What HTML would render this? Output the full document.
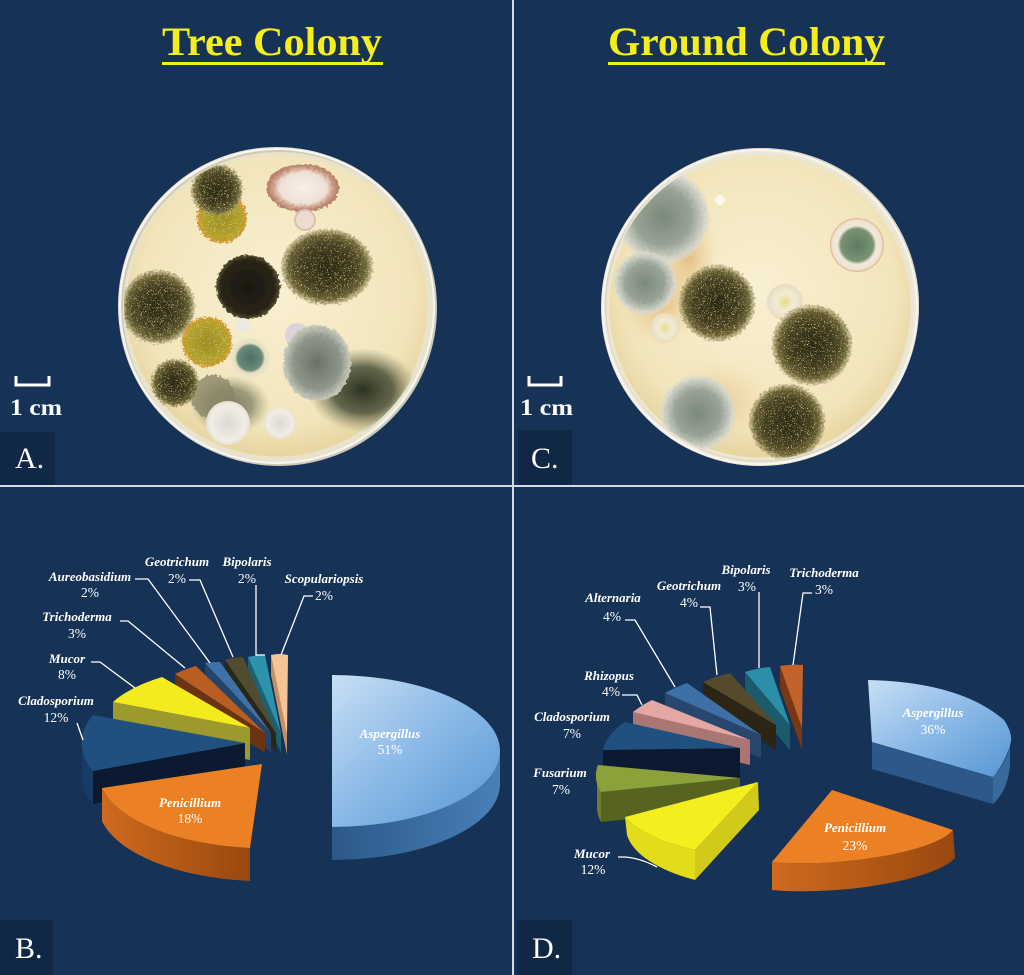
<!DOCTYPE html>
<html><head><meta charset="utf-8"><style>
html,body{margin:0;padding:0;background:#163256;}
svg{display:block}
.lb{font-family:"Liberation Serif",serif;font-style:italic;font-weight:600;font-size:13px;fill:#fff;text-anchor:middle}
.pc{font-family:"Liberation Serif",serif;font-size:13.5px;fill:#fff;text-anchor:middle}
.ld{stroke:#fff;stroke-width:1.3;fill:none}
.tt{font-family:"Liberation Serif",serif;font-weight:bold;font-size:40px;fill:#f4ee1c}
.pl{font-family:"Liberation Serif",serif;font-size:30px;fill:#fff}
.cm{font-family:"Liberation Serif",serif;font-weight:bold;font-size:23px;fill:#fff}
</style></head><body>
<svg width="1024" height="975" viewBox="0 0 1024 975" xmlns="http://www.w3.org/2000/svg">
<defs>
<linearGradient id="gAspTop" x1="0" y1="0" x2="1" y2="1"><stop offset="0" stop-color="#c8dff5"/><stop offset="0.45" stop-color="#8fbce8"/><stop offset="1" stop-color="#5796d4"/></linearGradient>
<linearGradient id="gAspSide" x1="0" y1="0" x2="1" y2="0"><stop offset="0" stop-color="#2b5888"/><stop offset="1" stop-color="#4a7fb8"/></linearGradient>
<linearGradient id="gPenSide" x1="0" y1="0" x2="1" y2="0"><stop offset="0" stop-color="#d06a1e"/><stop offset="1" stop-color="#98480f"/></linearGradient>
<radialGradient id="agar" cx="0.5" cy="0.45" r="0.55"><stop offset="0" stop-color="#f9f0d2"/><stop offset="0.8" stop-color="#f2e5bb"/><stop offset="1" stop-color="#e6d49f"/></radialGradient>
<radialGradient id="gDark"><stop offset="0" stop-color="#2b2713"/><stop offset="0.6" stop-color="#443e21"/><stop offset="0.85" stop-color="#6a6135"/><stop offset="1" stop-color="#a89f70" stop-opacity="0.5"/></radialGradient>
<radialGradient id="gBlack"><stop offset="0" stop-color="#1a1710"/><stop offset="0.85" stop-color="#2a2416"/><stop offset="1" stop-color="#5a5232"/></radialGradient>
<radialGradient id="gYel"><stop offset="0" stop-color="#9a8c22"/><stop offset="0.8" stop-color="#b3a22c"/><stop offset="0.93" stop-color="#c9962a"/><stop offset="1" stop-color="#d8a040"/></radialGradient>
<radialGradient id="gGR"><stop offset="0" stop-color="#4d6e66"/><stop offset="0.62" stop-color="#6a8a78"/><stop offset="0.75" stop-color="#e6dfc2"/><stop offset="1" stop-color="#efe6c8"/></radialGradient>
<radialGradient id="gGRc"><stop offset="0" stop-color="#5d7a62"/><stop offset="0.6" stop-color="#7a9274"/><stop offset="0.72" stop-color="#f0eadc"/><stop offset="0.92" stop-color="#efe2cf"/><stop offset="1" stop-color="#d9b58a"/></radialGradient>
<radialGradient id="gGrey"><stop offset="0" stop-color="#6a7266"/><stop offset="0.7" stop-color="#8f978b"/><stop offset="1" stop-color="#cacbbb"/></radialGradient>
<radialGradient id="gGreyC"><stop offset="0" stop-color="#7a887a"/><stop offset="0.6" stop-color="#98a395"/><stop offset="0.9" stop-color="#d3d5c9"/><stop offset="1" stop-color="#e0dccc" stop-opacity="0.4"/></radialGradient>
<radialGradient id="gWhite"><stop offset="0" stop-color="#dcd8d4"/><stop offset="0.8" stop-color="#f2eee6"/><stop offset="1" stop-color="#e6e0d0"/></radialGradient>
<radialGradient id="gWY"><stop offset="0" stop-color="#e8dc8a"/><stop offset="0.5" stop-color="#f2ecd6"/><stop offset="1" stop-color="#e8dcc0"/></radialGradient>
<radialGradient id="gPink"><stop offset="0" stop-color="#f7f0ea"/><stop offset="0.65" stop-color="#efe0d6"/><stop offset="0.86" stop-color="#c99880"/><stop offset="1" stop-color="#b07a64"/></radialGradient>
<radialGradient id="gSmudge"><stop offset="0" stop-color="#2c3222"/><stop offset="0.55" stop-color="#4a5038" stop-opacity="0.85"/><stop offset="1" stop-color="#7a7a5a" stop-opacity="0"/></radialGradient>
<radialGradient id="gStain"><stop offset="0" stop-color="#d99a50" stop-opacity="0.6"/><stop offset="1" stop-color="#e8c080" stop-opacity="0"/></radialGradient>
<filter id="spk" x="-15%" y="-15%" width="130%" height="130%">
 <feTurbulence type="fractalNoise" baseFrequency="0.45" numOctaves="2" seed="7" result="t"/>
 <feDisplacementMap in="SourceGraphic" in2="t" scale="7" xChannelSelector="R" yChannelSelector="G" result="d"/>
 <feTurbulence type="turbulence" baseFrequency="0.7" numOctaves="1" seed="2" result="t2"/>
 <feColorMatrix in="t2" type="matrix" values="0 0 0 0 0.78  0 0 0 0 0.7  0 0 0 0 0.3  4 0 0 0 -1.2" result="y"/>
 <feComposite in="y" in2="d" operator="in" result="ys"/>
 <feMerge><feMergeNode in="d"/><feMergeNode in="ys"/></feMerge>
</filter>
<filter id="fz" x="-15%" y="-15%" width="130%" height="130%">
 <feTurbulence type="fractalNoise" baseFrequency="0.3" numOctaves="2" seed="4" result="t"/>
 <feDisplacementMap in="SourceGraphic" in2="t" scale="5" xChannelSelector="R" yChannelSelector="G"/>
</filter>
<clipPath id="cpA"><circle cx="277" cy="306" r="153"/></clipPath>
<clipPath id="cpC"><circle cx="760" cy="307" r="153"/></clipPath>
</defs>

<rect width="1024" height="975" fill="#163256"/>

<!-- Titles -->
<text class="tt" x="162" y="55" textLength="220" lengthAdjust="spacingAndGlyphs">Tree Colony</text>
<rect x="162" y="62" width="221" height="3" fill="#f4ee1c"/>
<text class="tt" x="608" y="55" textLength="277" lengthAdjust="spacingAndGlyphs">Ground Colony</text>
<rect x="608" y="62" width="277" height="3" fill="#f4ee1c"/>

<!-- Plate A -->
<circle cx="277" cy="306" r="159" fill="#e6e2d4"/>
<circle cx="279" cy="308" r="157" fill="none" stroke="#cfcab8" stroke-width="2"/>
<circle cx="277" cy="306" r="153" fill="url(#agar)"/>
<circle cx="277" cy="306" r="152" fill="none" stroke="#ebe3c8" stroke-width="3"/>
<g clip-path="url(#cpA)">
 <ellipse cx="363" cy="390" rx="55" ry="42" fill="url(#gSmudge)"/>
 <ellipse cx="230" cy="405" rx="40" ry="30" fill="url(#gSmudge)" opacity="0.6"/>
 <ellipse cx="303" cy="188" rx="36" ry="24" fill="url(#gPink)" filter="url(#fz)"/>
 <circle cx="305" cy="220" r="10" fill="#ecdcd0" stroke="#d8bfb0" stroke-width="2"/>
 <circle cx="222" cy="218" r="25" fill="url(#gYel)" filter="url(#spk)"/>
 <circle cx="217" cy="190" r="26" fill="url(#gDark)" filter="url(#spk)"/>
 <ellipse cx="327" cy="267" rx="46" ry="38" fill="url(#gDark)" filter="url(#spk)"/>
 <circle cx="248" cy="287" r="32" fill="url(#gBlack)" filter="url(#fz)"/>
 <circle cx="158" cy="307" r="37" fill="url(#gDark)" filter="url(#spk)"/>
 <circle cx="207" cy="342" r="25" fill="url(#gYel)" filter="url(#spk)"/>
 <circle cx="250" cy="358" r="20" fill="url(#gGR)"/>
 <circle cx="243" cy="325" r="7" fill="#ece8e2"/>
 <circle cx="297" cy="335" r="12" fill="#dcd4da"/>
 <ellipse cx="317" cy="363" rx="34" ry="38" fill="url(#gGrey)" filter="url(#fz)"/>
 <circle cx="213" cy="397" r="22" fill="#8a8668" opacity="0.8" filter="url(#fz)"/>
 <circle cx="175" cy="383" r="24" fill="url(#gDark)" filter="url(#spk)"/>
 <circle cx="228" cy="423" r="22" fill="url(#gWhite)"/>
 <circle cx="280" cy="423" r="16" fill="url(#gWhite)"/>
</g>
<circle cx="277" cy="306" r="157" fill="none" stroke="#f7f5ee" stroke-width="2"/>

<!-- Plate C -->
<circle cx="760" cy="307" r="159" fill="#ebe7da"/>
<circle cx="762" cy="305" r="156" fill="none" stroke="#dcd6c6" stroke-width="2"/>
<circle cx="760" cy="307" r="153" fill="url(#agar)"/>
<circle cx="760" cy="307" r="152" fill="none" stroke="#ede5cc" stroke-width="3"/>
<g clip-path="url(#cpC)">
 <ellipse cx="688" cy="255" rx="30" ry="50" fill="url(#gStain)"/>
 <ellipse cx="660" cy="300" rx="40" ry="45" fill="url(#gStain)"/>
 <ellipse cx="720" cy="400" rx="50" ry="40" fill="url(#gStain)" opacity="0.6"/>
 <circle cx="663" cy="217" r="47" fill="url(#gGreyC)" filter="url(#fz)"/>
 <circle cx="645" cy="283" r="32" fill="url(#gGreyC)" filter="url(#fz)"/>
 <circle cx="717" cy="303" r="38" fill="url(#gDark)" filter="url(#spk)"/>
 <circle cx="665" cy="328" r="15" fill="url(#gWY)"/>
 <circle cx="785" cy="302" r="18" fill="url(#gWY)"/>
 <circle cx="857" cy="245" r="27" fill="url(#gGRc)"/>
 <circle cx="812" cy="345" r="40" fill="url(#gDark)" filter="url(#spk)"/>
 <circle cx="787" cy="422" r="38" fill="url(#gDark)" filter="url(#spk)"/>
 <circle cx="698" cy="413" r="38" fill="url(#gGreyC)" filter="url(#fz)"/>
 <circle cx="720" cy="200" r="5" fill="#fbf8ee"/>
</g>
<circle cx="760" cy="307" r="157" fill="none" stroke="#f7f5ee" stroke-width="2"/>

<!-- scale bars -->
<path d="M16,376 L16,385 L49,385 L49,376" stroke="#fff" stroke-width="3" fill="none"/>
<text class="cm" x="10" y="415" textLength="52" lengthAdjust="spacingAndGlyphs">1 cm</text>
<path d="M529,376 L529,385 L561,385 L561,376" stroke="#fff" stroke-width="3" fill="none"/>
<text class="cm" x="520" y="415" textLength="53" lengthAdjust="spacingAndGlyphs">1 cm</text>

<!-- ===== Pie B ===== -->
<path d="M271,655 L287,735 L287,755 L271,675 Z" fill="#c48f62"/>
<path d="M271,655 Q279,653 288,655 L287,735 Z" fill="#f5c596"/>
<path d="M248,657 L281,733 L281,753 L248,677 Z" fill="#1c6072"/>
<path d="M248,657 Q256,655 265,655 L281,733 Z" fill="#2d92ab"/>
<path d="M225,660 L276,733 L276,753 L225,680 Z" fill="#2a2616"/>
<path d="M225,660 Q234,657 243,657 L276,733 Z" fill="#514b30"/>
<path d="M205,663 L271,733 L271,753 L205,683 Z" fill="#24446a"/>
<path d="M205,663 Q212,662 220,662 L271,733 Z" fill="#3f71a8"/>
<path d="M175,674 L265,733 L265,753 L175,694 Z" fill="#6b330f"/>
<path d="M175,674 Q185,669 196,666 L265,733 Z" fill="#b95e22"/>
<path d="M113,702 L250,728 L250,760 L113,734 Z" fill="#9c9a2c"/>
<path d="M250,728 L162,677 A142,68 0 0 0 113,702 Z" fill="#f3eb1d"/>
<path d="M82,743 A163,76 0 0 0 93,771 L93,804 A163,76 0 0 1 82,776 Z" fill="#163c66"/>
<path d="M245,743 L93,771 L93,804 L245,776 Z" fill="#0b1a30"/>
<path d="M245,743 L93,715 A163,76 0 0 0 93,771 Z" fill="#20507f"/>
<path d="M102,788 A168,76 0 0 0 250,848 L250,881 A168,76 0 0 1 102,821 Z" fill="url(#gPenSide)"/>
<path d="M262,764 L102,788 A168,76 0 0 0 250,848 Z" fill="#ec8024"/>
<path d="M500,751 A168,76 0 0 1 332,827 L332,860 A168,76 0 0 0 500,784 Z" fill="url(#gAspSide)"/>
<path d="M332,751 L332,675 A168,76 0 0 1 332,827 Z" fill="url(#gAspTop)"/>

<path class="ld" d="M189,580 L200,580 L233,657"/>
<path class="ld" d="M256,585 L256,655 L265,655"/>
<path class="ld" d="M313,596 L304,596 L281,655"/>
<path class="ld" d="M135,579 L148,579 L210,663"/>
<path class="ld" d="M120,621 L128,621 L185,668"/>
<path class="ld" d="M91,662 L100,662 L135,688"/>
<path class="ld" d="M77,723 L83,740"/>

<text class="lb" x="177" y="566">Geotrichum</text><text class="pc" x="177" y="583">2%</text>
<text class="lb" x="247" y="566">Bipolaris</text><text class="pc" x="247" y="583">2%</text>
<text class="lb" x="324" y="583">Scopulariopsis</text><text class="pc" x="324" y="600">2%</text>
<text class="lb" x="90" y="581">Aureobasidium</text><text class="pc" x="90" y="597">2%</text>
<text class="lb" x="77" y="621">Trichoderma</text><text class="pc" x="77" y="638">3%</text>
<text class="lb" x="67" y="663">Mucor</text><text class="pc" x="67" y="679">8%</text>
<text class="lb" x="56" y="705">Cladosporium</text><text class="pc" x="56" y="722">12%</text>
<text class="lb" x="190" y="807">Penicillium</text><text class="pc" x="190" y="823">18%</text>
<text class="lb" x="390" y="738">Aspergillus</text><text class="pc" x="390" y="754">51%</text>

<!-- ===== Pie D ===== -->
<path d="M780,666 L802,728 L802,750 L780,688 Z" fill="#7a3812"/>
<path d="M780,666 Q792,664 803,665 L802,728 Z" fill="#c1632b"/>
<path d="M745,672 L790,725 L790,750 L745,697 Z" fill="#1b5b6b"/>
<path d="M745,672 Q757,668 770,667 L790,725 Z" fill="#2c8fa7"/>
<path d="M703,682 L776,725 L776,750 L703,707 Z" fill="#2c2414"/>
<path d="M703,682 Q716,676 730,673 L776,725 Z" fill="#564a2d"/>
<path d="M665,693 L761,735 L761,758 L665,716 Z" fill="#27476e"/>
<path d="M665,693 Q676,687 687,683 L761,735 Z" fill="#3e6fa7"/>
<path d="M633,712 L750,740 L750,765 L633,737 Z" fill="#a97674"/>
<path d="M633,712 Q642,705 652,700 L750,740 Z" fill="#e4a7a4"/>
<path d="M740,748 L603,750 L603,780 L740,778 Z" fill="#0b1a30"/>
<path d="M740,748 L625,722 A145,62 0 0 0 603,750 Z" fill="#20507f"/>
<path d="M597,778 A145,62 0 0 0 601,792 L601,822 A145,62 0 0 1 597,808 Z" fill="#6d7f2a"/>
<path d="M740,778 L601,792 L601,822 L740,808 Z" fill="#56641f"/>
<path d="M740,778 L598,765 A145,62 0 0 0 601,792 Z" fill="#8da13b"/>
<path d="M625,817 A145,62 0 0 0 695,850 L695,880 A145,62 0 0 1 627,835 Z" fill="#e3dc1a"/>
<path d="M758,782 L695,850 L695,880 L759,810 Z" fill="#d1ca18"/>
<path d="M758,782 L625,817 A145,62 0 0 0 695,850 Z" fill="#f5ee1e"/>
<path d="M953,830 C935,852 840,868 772,862 L772,890 C840,896 935,880 955,858 Z" fill="url(#gPenSide)"/>
<path d="M832,790 L953,830 C935,852 840,868 772,862 Z" fill="#ec8024"/>
<path d="M872,742 L993,777 L993,804 L872,769 Z" fill="#2c5989"/>
<path d="M1010,742 Q1008,762 993,777 L993,804 Q1008,790 1010,765 Z" fill="#3a6a9c"/>
<path d="M872,742 L868,680 Q960,682 1004,720 Q1014,735 1010,745 Q1004,765 993,777 Z" fill="url(#gAspTop)"/>

<path class="ld" d="M759,592 L759,668"/>
<path class="ld" d="M812,593 L803,593 L793,665"/>
<path class="ld" d="M700,607 L710,607 L717,675"/>
<path class="ld" d="M625,620 L635,620 L675,687"/>
<path class="ld" d="M622,695 L637,695 L642,705"/>
<path class="ld" d="M618,857 L625,857 Q640,858 657,867"/>

<text class="lb" x="746" y="574">Bipolaris</text><text class="pc" x="747" y="591">3%</text>
<text class="lb" x="824" y="577">Trichoderma</text><text class="pc" x="824" y="594">3%</text>
<text class="lb" x="689" y="590">Geotrichum</text><text class="pc" x="689" y="607">4%</text>
<text class="lb" x="613" y="602">Alternaria</text><text class="pc" x="612" y="621">4%</text>
<text class="lb" x="609" y="680">Rhizopus</text><text class="pc" x="611" y="696">4%</text>
<text class="lb" x="572" y="721">Cladosporium</text><text class="pc" x="572" y="738">7%</text>
<text class="lb" x="560" y="777">Fusarium</text><text class="pc" x="561" y="794">7%</text>
<text class="lb" x="592" y="858">Mucor</text><text class="pc" x="593" y="874">12%</text>
<text class="lb" x="855" y="832">Penicillium</text><text class="pc" x="855" y="850">23%</text>
<text class="lb" x="933" y="717">Aspergillus</text><text class="pc" x="933" y="734">36%</text>

<!-- label boxes -->
<rect x="0" y="432" width="55" height="53" fill="#102846"/>
<text class="pl" x="15" y="468">A.</text>
<rect x="518" y="430" width="54" height="55" fill="#102846"/>
<text class="pl" x="531" y="468">C.</text>
<rect x="0" y="920" width="53" height="55" fill="#102846"/>
<text class="pl" x="15" y="958">B.</text>
<rect x="517" y="920" width="55" height="55" fill="#102846"/>
<text class="pl" x="532" y="958">D.</text>

<!-- dividers -->
<rect x="512" y="0" width="2" height="975" fill="#d5dbe3"/>
<rect x="0" y="485" width="1024" height="2" fill="#d5dbe3"/>
</svg>
</body></html>
